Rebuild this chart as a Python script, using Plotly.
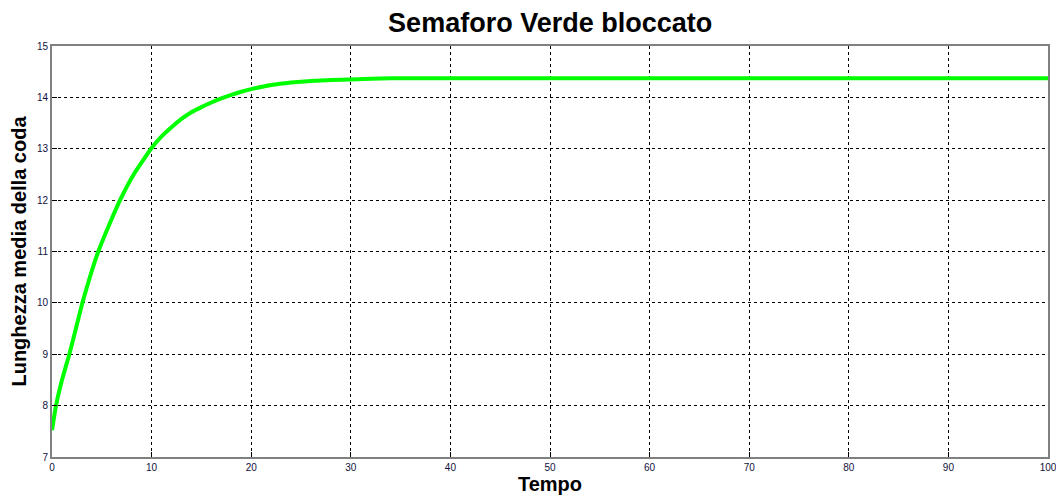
import plotly.graph_objects as go

tempo = [0, 0.4, 1, 1.74, 2.4, 3.05, 3.8, 4.65, 5.7, 6.83, 8.2, 9.94,
         11, 12, 13, 14, 15, 16, 17, 18, 19, 20, 22, 24, 26, 28, 30, 34,
         40, 50, 60, 70, 80, 90, 100]
coda = [7.52, 8.0, 8.5, 9.0, 9.5, 10.0, 10.5, 11.0, 11.5, 12.0, 12.5, 13.0,
        13.24, 13.42, 13.58, 13.71, 13.81, 13.9, 13.98, 14.05, 14.11, 14.16,
        14.24, 14.29, 14.32, 14.34, 14.35, 14.37,
        14.37, 14.37, 14.37, 14.37, 14.37, 14.37, 14.37]

x_ticks = [0, 10, 20, 30, 40, 50, 60, 70, 80, 90, 100]
y_ticks = [7, 8, 9, 10, 11, 12, 13, 14, 15]

fig = go.Figure()
fig.add_trace(go.Scatter(x=tempo, y=coda, mode="lines",
                         line=dict(color="#00ff00", width=4, shape="spline", smoothing=0.3),
                         showlegend=False, hoverinfo="x+y"))

axis_common = dict(
    showgrid=True, gridcolor="black", gridwidth=1, griddash="3px,3px",
    showline=True, linecolor="#808080", linewidth=2, mirror=True,
    ticks="inside", ticklen=5, tickcolor="black", zeroline=False,
    automargin=False, ticklabeloverflow="allow",
    tickfont=dict(family="Liberation Sans, Arial", size=10, color="#101040"),
)

fig.update_xaxes(range=[0, 100], tickvals=x_ticks, ticktext=[str(v) for v in x_ticks],
                 title=dict(text="<b>Tempo</b>", standoff=4,
                            font=dict(family="Liberation Sans, Arial", size=20, color="black")),
                 **axis_common)
fig.update_yaxes(range=[7, 15], tickvals=y_ticks, ticktext=[str(v) for v in y_ticks],
                 title=dict(text="<b>Lunghezza media della coda</b>", standoff=5,
                            font=dict(family="Liberation Sans, Arial", size=20, color="black")),
                 **axis_common)

fig.update_layout(
    width=1056, height=495, autosize=False,
    margin=dict(l=52, r=8, t=46, b=38),
    paper_bgcolor="white", plot_bgcolor="white",
    title=dict(text="<b>Semaforo Verde bloccato</b>", x=0.521, xanchor="center",
               y=0.955, yanchor="middle",
               font=dict(family="Liberation Sans, Arial", size=27, color="black")),
)

fig.write_html("out.html")
